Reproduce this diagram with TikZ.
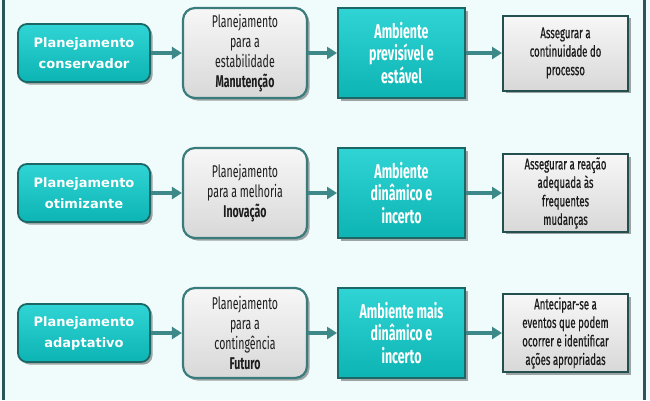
\documentclass[tikz,border=0pt]{standalone}
\usepackage{fontspec}
\usetikzlibrary{arrows.meta,shadows}
\newfontfamily\vsans{DejaVu Sans}
\newfontfamily\condfont[FakeStretch=0.62]{Fira Sans}
\newfontfamily\condmed[FakeStretch=0.62,FakeBold=0.6]{Fira Sans}
\definecolor{bg}{HTML}{F0FBFB}
\definecolor{tealA}{HTML}{30D4D4}
\definecolor{tealB}{HTML}{0DB4B4}
\definecolor{tealedge}{HTML}{1D6666}
\definecolor{grayA}{HTML}{F7F7F7}
\definecolor{grayB}{HTML}{D8D8D8}
\definecolor{grayedge}{HTML}{3A7C7C}
\definecolor{goaledge}{HTML}{244F4F}
\definecolor{arrowc}{HTML}{3D8888}
\definecolor{framec}{HTML}{2C5555}
\definecolor{darktxt}{HTML}{1C1C1C}
\tikzset{
  boxshadow/.style={drop shadow={shadow xshift=2.5pt,shadow yshift=-2.5pt,opacity=0.35,fill=black}},
  planbox/.style={rounded corners=9pt, draw=tealedge, line width=1.8pt,
    top color=tealA, bottom color=tealB, minimum width=132pt, minimum height=58pt,
    text=white, align=center, font=\vsans\bfseries\fontsize{13}{21}\selectfont, boxshadow},
  methodbox/.style={rounded corners=12pt, draw=grayedge, line width=2.2pt,
    top color=grayA, bottom color=grayB, minimum width=124pt, minimum height=90pt,
    text=darktxt, align=center, font=\condfont\fontsize{17}{20}\selectfont, boxshadow},
  envbox/.style={draw=tealedge, line width=2pt, top color=tealA, bottom color=tealB,
    minimum width=127pt, minimum height=90pt, text=white, align=center,
    font=\condfont\bfseries\fontsize{20}{22.5}\selectfont, boxshadow},
  goalbox/.style={draw=goaledge, line width=2pt, top color=grayA, bottom color=grayB,
    minimum width=125pt, minimum height=75pt, text=darktxt, align=center,
    font=\condmed\fontsize{15.5}{18.5}\selectfont, boxshadow},
  flow/.style={draw=arrowc, line width=4pt, -{Triangle[length=10pt,width=12pt]}},
}
\begin{document}
\begin{tikzpicture}[x=1pt,y=-1pt]
\fill[bg] (0,0) rectangle (650,400);
\useasboundingbox (0,0) rectangle (650,400);
\draw[framec, line width=3pt] (3.5,0) -- (3.5,400);
\draw[framec, line width=3pt] (644.5,0) -- (644.5,400);
% row 1
\node[planbox] (p1) at (84,53) {Planejamento\\conservador};
\node[methodbox] (m1) at (245,53) {Planejamento\\para a\\estabilidade\\\textbf{Manutenção}};
\node[envbox] (e1) at (401.5,53) {Ambiente\\previsível e\\estável};
\node[goalbox] (g1) at (565.5,53) {Assegurar a\\continuidade do\\processo};
% row 2
\node[planbox] (p2) at (84,193) {Planejamento\\otimizante};
\node[methodbox] (m2) at (245,193) {Planejamento\\para a melhoria\\\textbf{Inovação}};
\node[envbox] (e2) at (401.5,193) {Ambiente\\dinâmico e\\incerto};
\node[goalbox] (g2) at (565.5,193) {Assegurar a reação\\adequada às\\frequentes\\mudanças};
% row 3
\node[planbox] (p3) at (84,333) {Planejamento\\adaptativo};
\node[methodbox] (m3) at (245,333) {Planejamento\\para a\\contingência\\\textbf{Futuro}};
\node[envbox] (e3) at (401.5,333) {Ambiente mais\\dinâmico e\\incerto};
\node[goalbox] (g3) at (565.5,333) {Antecipar-se a\\eventos que podem\\ocorrer e identificar\\ações apropriadas};
% connectors
\foreach \r in {1,2,3}{
  \draw[flow] (p\r) -- (m\r);
  \draw[flow] (m\r) -- (e\r);
  \draw[flow] (e\r) -- (g\r);
}
\end{tikzpicture}
\end{document}
